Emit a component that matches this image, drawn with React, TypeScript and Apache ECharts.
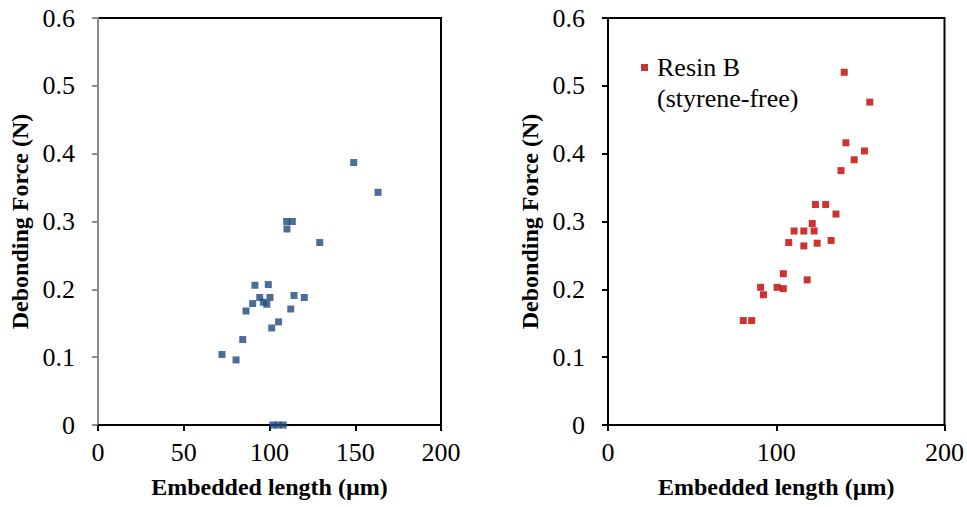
import React, { useEffect, useRef } from "react";
import * as echarts from "echarts";

const leftX = [149.1, 163.3, 110.0, 113.3, 110.2, 129.3, 91.5, 99.3, 94.3, 100.3, 96.4, 98.4, 90.2, 114.3, 120.3, 86.3, 112.4, 105.3, 101.3, 84.4, 72.3, 80.5, 102, 105, 108];
const leftY = [0.387, 0.343, 0.300, 0.300, 0.289, 0.269, 0.206, 0.207, 0.188, 0.188, 0.181, 0.178, 0.179, 0.191, 0.188, 0.168, 0.171, 0.152, 0.143, 0.126, 0.104, 0.096, 0, 0, 0];

const rightX = [140.4, 155.6, 141.4, 152.4, 146.3, 138.5, 123.3, 129.4, 135.5, 121.4, 110.6, 116.4, 122.5, 107.4, 116.4, 124.3, 132.6, 104.2, 118.4, 90.7, 92.4, 100.5, 104.2, 80.4, 85.4];
const rightY = [0.520, 0.476, 0.416, 0.404, 0.391, 0.375, 0.325, 0.325, 0.311, 0.297, 0.286, 0.286, 0.286, 0.269, 0.264, 0.268, 0.272, 0.223, 0.214, 0.203, 0.192, 0.203, 0.201, 0.154, 0.154];

const leftXTicks = [0, 50, 100, 150, 200];
const rightXTicks = [0, 100, 200];
const yTicks = [0, 0.1, 0.2, 0.3, 0.4, 0.5, 0.6];

const legendName = "Resin B\n(styrene-free)";
const xTitle = "Embedded length (µm)";
const yTitle = "Debonding Force (N)";

const FONT = "Liberation Serif";

export default function App() {
  const ref = useRef<HTMLDivElement>(null);
  useEffect(() => {
    if (!ref.current) return;
    const chart = echarts.init(ref.current, undefined, { renderer: "svg" });
    const labelStyle = { fontFamily: FONT, fontSize: 26, fontWeight: "normal" as const, color: "#000" };
    const nameStyle = { fontFamily: FONT, fontSize: 24, fontWeight: "bold" as const, color: "#000" };
    const mkX = (idx: number, interval: number, ticks: number[]) => ({
      type: "value",
      gridIndex: idx,
      min: ticks[0],
      max: ticks[ticks.length - 1],
      interval,
      name: xTitle,
      nameLocation: "middle",
      nameGap: 50,
      nameTextStyle: nameStyle,
      axisLine: { show: true, onZero: false, lineStyle: { color: "#000", width: 2 } },
      axisTick: { show: true, inside: false, length: 6, lineStyle: { color: "#000", width: 2 } },
      axisLabel: { ...labelStyle, margin: 14 },
      splitLine: { show: false },
    });
    const mkY = (idx: number, color: string) => ({
      type: "value",
      gridIndex: idx,
      min: yTicks[0],
      max: yTicks[yTicks.length - 1],
      interval: 0.1,
      name: yTitle,
      nameLocation: "middle",
      nameRotate: 90,
      nameGap: 66,
      nameTextStyle: nameStyle,
      axisLine: { show: true, onZero: false, lineStyle: { color, width: 2 } },
      axisTick: { show: true, inside: false, length: 6, lineStyle: { color, width: 2 } },
      axisLabel: { ...labelStyle, margin: 23, formatter: (v: number) => String(Math.round(v * 10) / 10) },
      splitLine: { show: false },
    });
    chart.setOption({
      animation: false,
      backgroundColor: "#fff",
      textStyle: { fontFamily: FONT },
      grid: [
        { left: 98, top: 18, width: 343, height: 407, show: true, borderColor: "#000", borderWidth: 2, backgroundColor: "transparent" },
        { left: 608, top: 18, width: 339, height: 407, show: true, borderColor: "#000", borderWidth: 2, backgroundColor: "transparent" },
      ],
      xAxis: [mkX(0, 50, leftXTicks), mkX(1, 100, rightXTicks)],
      yAxis: [mkY(0, "#8c8c8c"), mkY(1, "#000")],
      legend: {
        data: [legendName],
        left: 636,
        top: 16,
        icon: "rect",
        itemWidth: 7,
        itemHeight: 7,
        formatter: (n: string) => " \n" + n,
        textStyle: { fontFamily: FONT, fontSize: 26, color: "#000", lineHeight: 31, padding: [0, 0, 0, 4] },
      },
      series: [
        {
          name: "Resin A",
          type: "scatter",
          xAxisIndex: 0,
          yAxisIndex: 0,
          symbol: "rect",
          symbolSize: 7,
          clip: false,
          itemStyle: { color: "#1F497D" },
          data: leftX.map((x, i) => [x, leftY[i]]),
        },
        {
          name: legendName,
          type: "scatter",
          xAxisIndex: 1,
          yAxisIndex: 1,
          symbol: "rect",
          symbolSize: 7,
          clip: false,
          itemStyle: { color: "#C00000" },
          data: rightX.map((x, i) => [x, rightY[i]]),
        },
      ],
    });
    return () => chart.dispose();
  }, []);
  return <div ref={ref} style={{ position: "fixed", left: 0, top: 0, width: 967, height: 507, background: "#fff" }} />;
}
